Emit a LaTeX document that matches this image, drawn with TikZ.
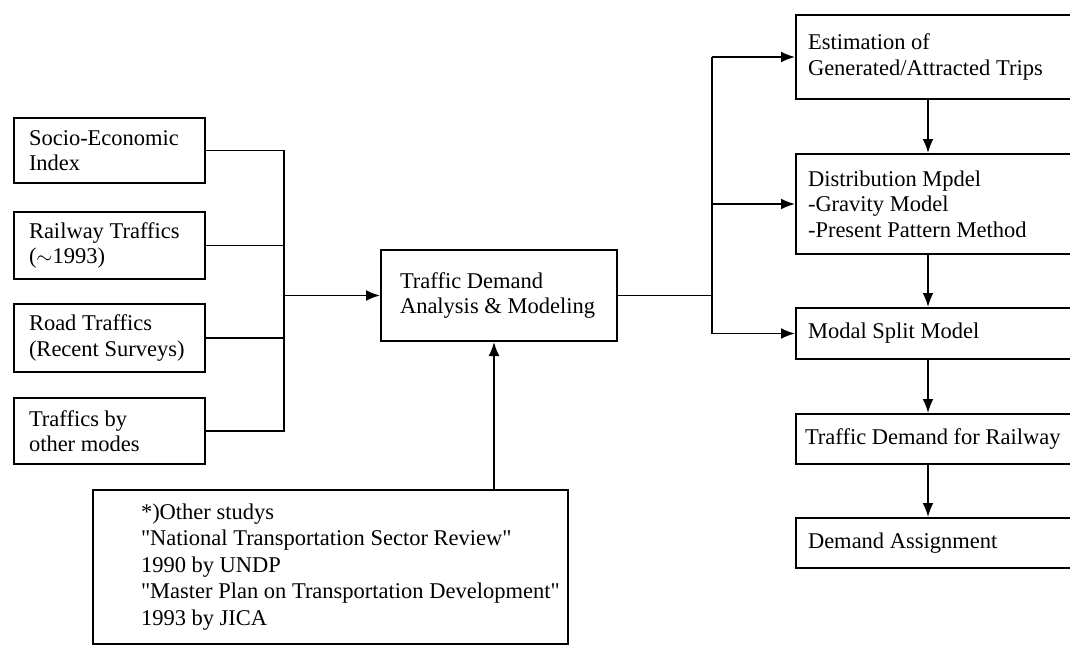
\documentclass[tikz,border=0pt]{standalone}
\usepackage{fontspec}
\setmainfont{Liberation Serif}[Ligatures=TeXOff]
\usetikzlibrary{arrows.meta}
\newcommand\boxtxt[3]{\hspace*{#1}\parbox{\dimexpr#2-#1\relax}{\raggedright #3}}
\begin{document}
\begin{tikzpicture}[x=1pt,y=-1pt,
  box/.style={draw, line width=2pt, rectangle, anchor=north west,
    inner xsep=0pt, inner ysep=0pt, font=\fontsize{22.5}{25.5}\selectfont},
  link/.style={line width=1.8pt},
  arr/.style={line width=1.8pt, -{Latex[length=14pt,width=11pt]}}]
\useasboundingbox (0,0) rectangle (1070,645);
\clip (0,0) rectangle (1070,645);
% left inputs
\node[box, minimum width=191pt, minimum height=65pt] (socio) at (13,117)
  {\boxtxt{15pt}{191pt}{Socio-Economic\\Index}};
\node[box, minimum width=191pt, minimum height=67pt] (railw) at (13,211)
  {\boxtxt{15pt}{191pt}{Railway Traffics\\($\sim$1993)}};
\node[box, minimum width=191pt, minimum height=68pt] (road) at (13,303)
  {\boxtxt{15pt}{191pt}{Road Traffics\\(Recent Surveys)}};
\node[box, minimum width=191pt, minimum height=66pt] (traf) at (13,397)
  {\boxtxt{15pt}{191pt}{Traffics by\\other modes}};
% central
\node[box, minimum width=236pt, minimum height=91pt] (central) at (380,249)
  {\boxtxt{19pt}{236pt}{Traffic Demand\\Analysis \& Modeling}};
% other studies
\node[box, minimum width=475pt, minimum height=154pt,
  font=\fontsize{22.5}{26.5}\selectfont] (other) at (92,489)
  {\boxtxt{48pt}{475pt}{*)Other studys\\"National Transportation Sector Review"\\1990 by UNDP\\"Master Plan on Transportation Development"\\1993 by JICA}};
% right chain
\node[box, minimum width=290pt, minimum height=84pt] (est) at (795,14)
  {\boxtxt{12pt}{290pt}{Estimation of\\Generated/Attracted Trips}};
\node[box, minimum width=290pt, minimum height=100pt] (dist) at (795,153)
  {\boxtxt{12pt}{290pt}{Distribution Mpdel\\-Gravity Model\\-Present Pattern Method}};
\node[box, minimum width=290pt, minimum height=51pt] (modal) at (795,307)
  {\boxtxt{12pt}{290pt}{Modal Split Model}};
\node[box, minimum width=290pt, minimum height=50pt] (demrail) at (795,413)
  {\boxtxt{9pt}{290pt}{Traffic Demand for Railway}};
\node[box, minimum width=290pt, minimum height=50pt] (assign) at (795,517)
  {\boxtxt{12pt}{290pt}{Demand Assignment}};
% helper coordinates
\coordinate (busL) at (284,0);
\coordinate (busR) at (712,0);
\coordinate (vx) at (928,0);
\coordinate (vy) at (494,0);
% left bus
\draw[link] (socio.east) -- (socio.east -| busL) -- (traf.east -| busL) -- (traf.east);
\draw[link] (railw.east) -- (railw.east -| busL);
\draw[link] (road.east) -- (road.east -| busL);
\draw[arr] (central.west -| busL) -- (central.west);
% from other studies
\draw[arr] (other.north -| vy) -- (central.south -| vy);
% right bus
\draw[link] (central.east) -- (central.east -| busR);
\draw[link] (est.west -| busR) -- (modal.west -| busR);
\draw[arr] (est.west -| busR) -- (est.west);
\draw[arr] (dist.west -| busR) -- (dist.west);
\draw[arr] (modal.west -| busR) -- (modal.west);
% chain
\draw[arr] (est.south -| vx) -- (dist.north -| vx);
\draw[arr] (dist.south -| vx) -- (modal.north -| vx);
\draw[arr] (modal.south -| vx) -- (demrail.north -| vx);
\draw[arr] (demrail.south -| vx) -- (assign.north -| vx);
\end{tikzpicture}
\end{document}
